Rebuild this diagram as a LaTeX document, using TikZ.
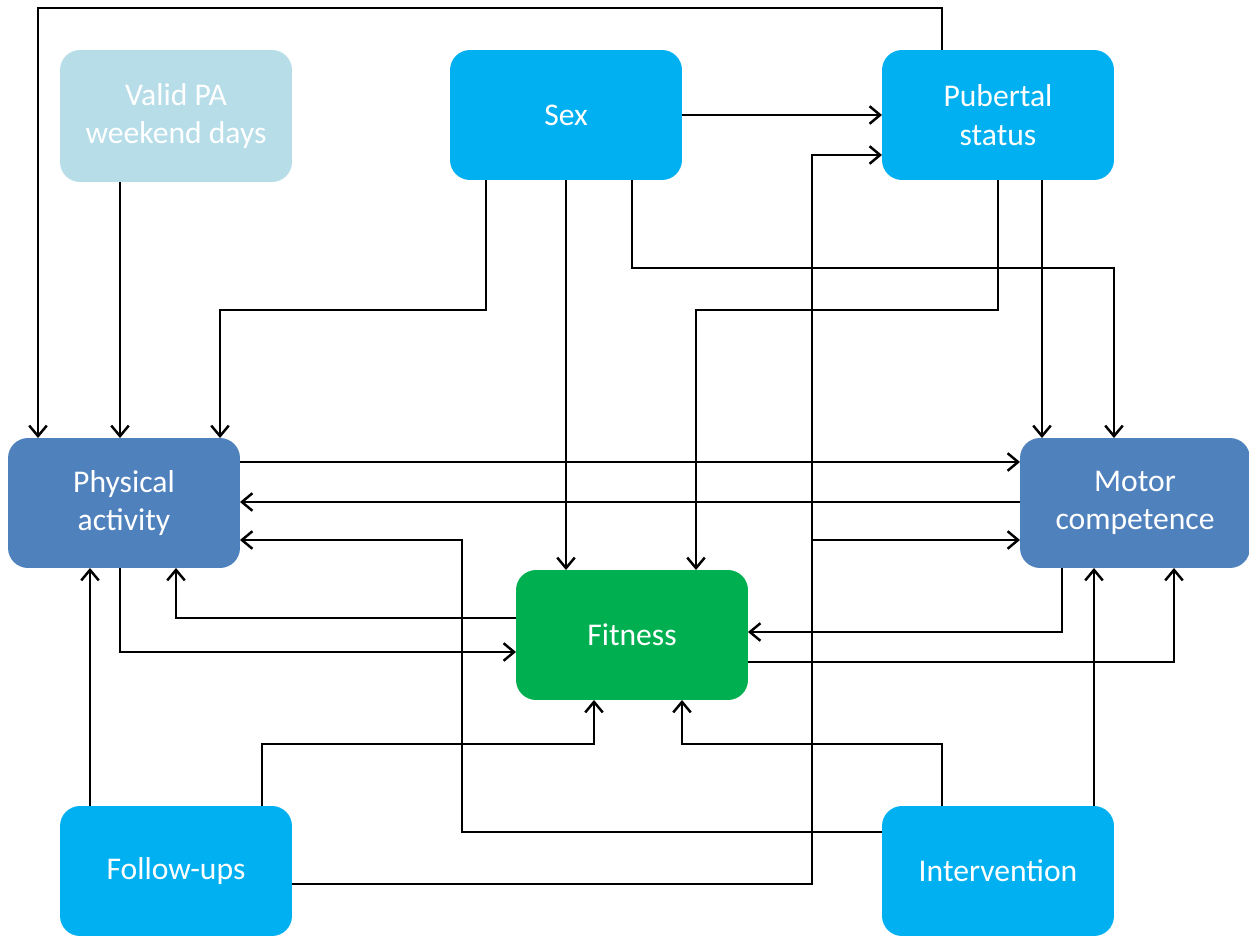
\documentclass[tikz,border=0pt]{standalone}
\usepackage{fontspec}
\setmainfont{Carlito}
\usetikzlibrary{arrows.meta}
\definecolor{lightbox}{HTML}{B7DDE8}
\definecolor{cyanbox}{HTML}{00B0F0}
\definecolor{bluebox}{HTML}{4F81BD}
\definecolor{greenbox}{HTML}{00B050}
\tikzset{
  box/.style={rectangle, rounded corners=0.4cm, draw=none, text=white, align=center,
    minimum width=4.64cm, minimum height=2.6cm, inner sep=0pt, outer sep=0pt,
    font=\fontsize{18}{22}\selectfont},
  arr/.style={line width=1.4pt, -{Straight Barb[length=6pt,width=10pt,line width=1.4pt]}},
  ln/.style={line width=1.4pt}
}
\begin{document}
\begin{tikzpicture}[x=0.02cm,y=-0.02cm]
\useasboundingbox (0,0) rectangle (1249,936);
\node[box, fill=lightbox, minimum height=2.64cm] (valid) at (176,116) {Valid PA\\weekend days};
\node[box, fill=cyanbox] (sex) at (566,115) {Sex};
\node[box, fill=cyanbox] (pub) at (998,115) {Pubertal\\status};
\node[box, fill=bluebox] (pa) at (124,503) {Physical\\activity};
\node[box, fill=bluebox, minimum width=4.6cm] (mc) at (1135,503) {Motor\\competence};
\node[box, fill=greenbox] (fit) at (632,635) {Fitness};
\node[box, fill=cyanbox] (fu) at (176,871) {Follow-ups};
\node[box, fill=cyanbox] (int) at (998,871) {Intervention};

\draw[arr] (942,0 |- pub.north) |- (38,8) -- (38,0 |- pa.north);
\draw[arr] (120,0 |- valid.south) -- (120,0 |- pa.north);
\draw[arr] (sex.east) -- (pub.west);
\draw[arr] (486,0 |- sex.south) |- (220,310) -- (220,0 |- pa.north);
\draw[arr] (566,0 |- sex.south) -- (566,0 |- fit.north);
\draw[arr] (632,0 |- sex.south) |- (1114,268) -- (1114,0 |- mc.north);
\draw[arr] (998,0 |- pub.south) |- (696,310) -- (696,0 |- fit.north);
\draw[arr] (1042,0 |- pub.south) -- (1042,0 |- mc.north);
\draw[arr] (pa.east |- 0,462) -- (mc.west |- 0,462);
\draw[arr] (mc.west |- 0,502) -- (pa.east |- 0,502);
\draw[arr] (int.west |- 0,832) -| (462,540) -- (pa.east |- 0,540);
\draw[arr] (fu.east |- 0,884) -| (812,155) -- (pub.west |- 0,155);
\coordinate (branch) at (812,540);
\draw[arr] (branch) -- (mc.west |- 0,540);
\draw[arr] (fit.west |- 0,618) -| (176,0 |- pa.south);
\draw[arr] (120,0 |- pa.south) |- (fit.west |- 0,652);
\draw[arr] (1062,0 |- mc.south) |- (fit.east |- 0,632);
\draw[arr] (fit.east |- 0,662) -| (1174,0 |- mc.south);
\draw[arr] (90,0 |- fu.north) -- (90,0 |- pa.south);
\draw[arr] (262,0 |- fu.north) |- (594,744) -- (594,0 |- fit.south);
\draw[arr] (942,0 |- int.north) |- (682,744) -- (682,0 |- fit.south);
\draw[arr] (1094,0 |- int.north) -- (1094,0 |- mc.south);
\end{tikzpicture}
\end{document}
